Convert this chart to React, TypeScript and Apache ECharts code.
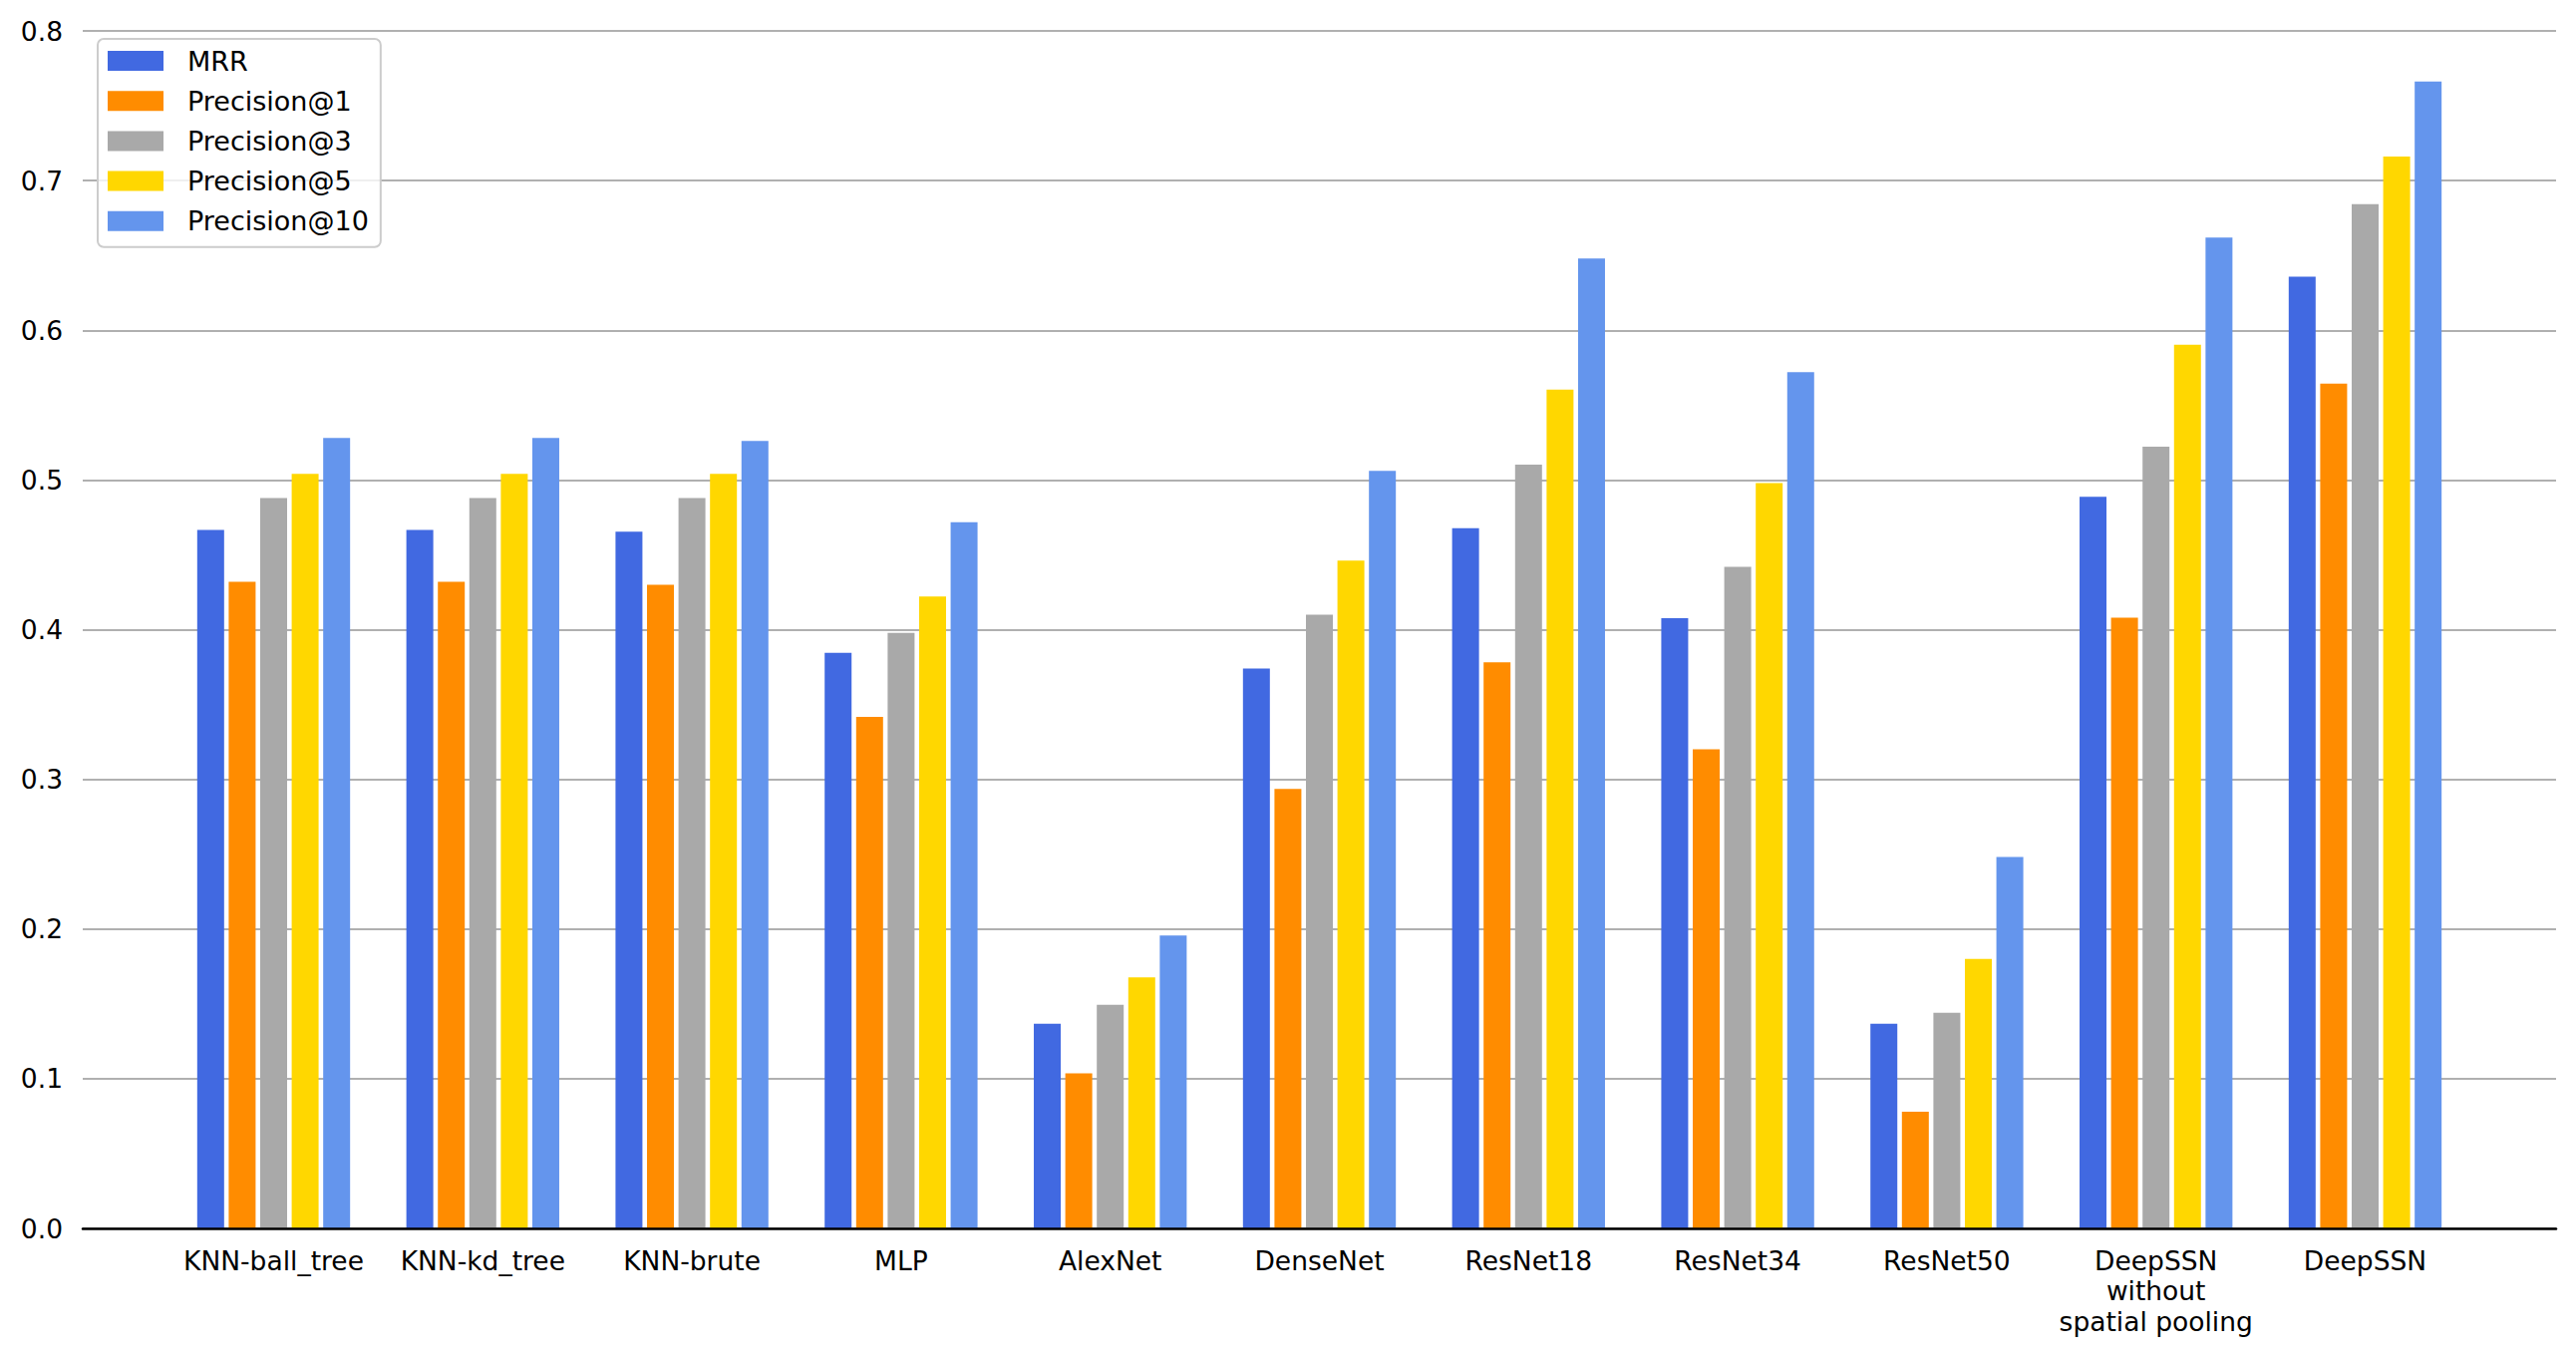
import React, { useEffect, useRef } from "react";
import * as echarts from "echarts";

const categories = [
  "KNN-ball_tree",
  "KNN-kd_tree",
  "KNN-brute",
  "MLP",
  "AlexNet",
  "DenseNet",
  "ResNet18",
  "ResNet34",
  "ResNet50",
  "DeepSSN\nwithout\nspatial pooling",
  "DeepSSN",
];

const seriesNames = ["MRR", "Precision@1", "Precision@3", "Precision@5", "Precision@10"];
const seriesColors = ["#4169E1", "#FF8C00", "#A9A9A9", "#FFD700", "#6495ED"];

const mrr = [0.4666, 0.4666, 0.4655, 0.3845, 0.1367, 0.374, 0.4677, 0.4077, 0.1368, 0.4888, 0.6358];
const precision1 = [0.432, 0.432, 0.43, 0.3417, 0.1036, 0.2936, 0.3782, 0.32, 0.078, 0.408, 0.5643];
const precision3 = [0.488, 0.488, 0.488, 0.3978, 0.1494, 0.41, 0.5103, 0.442, 0.1441, 0.5223, 0.6842];
const precision5 = [0.504, 0.504, 0.504, 0.4221, 0.1677, 0.4461, 0.5603, 0.498, 0.18, 0.5903, 0.716];
const precision10 = [0.528, 0.528, 0.526, 0.4718, 0.1956, 0.5061, 0.648, 0.572, 0.2481, 0.662, 0.7662];

const yTicks = { min: 0, max: 0.8, interval: 0.1 };

const FONT = "DejaVu Sans";

export default function App() {
  const ref = useRef<HTMLDivElement>(null);

  useEffect(() => {
    if (!ref.current) return;
    const chart = echarts.init(ref.current, undefined, { renderer: "svg" });
    const values = [mrr, precision1, precision3, precision5, precision10];

    const option: any = {
      animation: false,
      backgroundColor: "#ffffff",
      textStyle: { fontFamily: FONT },
      grid: [
        { left: 83, right: 20, top: 31, bottom: 129 },
        { left: 169.6, right: 106.6, top: 31, bottom: 129 },
      ],
      legend: {
        orient: "vertical",
        left: 98,
        top: 39,
        data: seriesNames,
        icon: "rect",
        itemWidth: 56,
        itemHeight: 20,
        itemGap: 13.2,
        padding: [8.5, 12, 12.5, 10],
        backgroundColor: "rgba(255,255,255,0.8)",
        borderColor: "#cccccc",
        borderWidth: 2,
        borderRadius: 6,
        textStyle: {
          fontFamily: FONT,
          fontSize: 27,
          color: "#000",
          padding: [0, 0, 0, 19],
        },
        z: 20,
      },
      xAxis: [
        {
          gridIndex: 0,
          type: "value",
          min: 0,
          max: 1,
          axisLine: { show: true, lineStyle: { color: "#000", width: 2.5 } },
          axisTick: { show: false },
          axisLabel: { show: false },
          splitLine: { show: false },
          z: 10,
        },
        {
          gridIndex: 1,
          type: "category",
          data: categories,
          axisLine: { show: false },
          axisTick: { show: false },
          axisLabel: {
            fontFamily: FONT,
            fontSize: 26.5,
            color: "#000",
            margin: 17,
            lineHeight: 30.5,
            interval: 0,
            align: "center",
          },
          splitLine: { show: false },
        },
      ],
      yAxis: [
        {
          gridIndex: 0,
          type: "value",
          min: yTicks.min,
          max: yTicks.max,
          interval: yTicks.interval,
          axisLine: { show: false },
          axisTick: { show: false },
          axisLabel: {
            fontFamily: FONT,
            fontSize: 26.5,
            color: "#000",
            margin: 20,
            formatter: (v: number) => v.toFixed(1),
          },
          splitLine: { show: true, lineStyle: { color: "#b0b0b0", width: 2 } },
        },
        {
          gridIndex: 1,
          type: "value",
          min: yTicks.min,
          max: yTicks.max,
          show: false,
          splitLine: { show: false },
        },
      ],
      series: seriesNames.map((name, i) => ({
        name,
        type: "bar",
        xAxisIndex: 1,
        yAxisIndex: 1,
        data: values[i],
        barWidth: 27,
        barGap: "17%",
        itemStyle: { color: seriesColors[i] },
        z: 5,
      })),
    };

    chart.setOption(option);
    return () => chart.dispose();
  }, []);

  return (
    <div
      ref={ref}
      style={{ position: "absolute", left: 0, top: 0, width: 2584, height: 1361 }}
    />
  );
}
